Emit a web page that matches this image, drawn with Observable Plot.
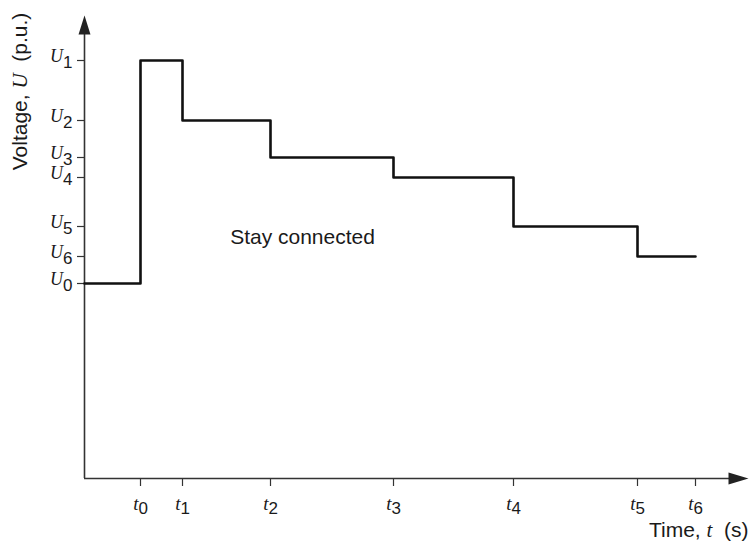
<!DOCTYPE html>
<html>
<head>
<meta charset="utf-8">
<script src="https://cdn.jsdelivr.net/npm/d3@7"></script>
<script src="https://cdn.jsdelivr.net/npm/@observablehq/plot@0.6"></script>
<style>
  html, body { margin: 0; padding: 0; background: #fff; }
</style>
</head>
<body>
<div id="chart"></div>
<script>
// ---- data ----
const tLabels = ["*t*_0", "*t*_1", "*t*_2", "*t*_3", "*t*_4", "*t*_5", "*t*_6"];
const tValues = [56, 98, 186, 309, 429, 553, 611];
const uLabels = ["*U*_0", "*U*_1", "*U*_2", "*U*_3", "*U*_4", "*U*_5", "*U*_6"];
const uValues = [195, 418, 358, 321, 301, 252, 222];
const xMax = 664;
const yMax = 463;
const yTitle = "Voltage, *U*  (p.u.)";
const xTitle = "Time, *t*  (s)";
const note = "Stay connected";
const noteAt = {t: 218, u: 241};

// step profile: starts at U0 at t=0, then U1..U6 from t0..t5, held to t6
const profile = [{t: 0, u: uValues[0]}];
for (let i = 0; i < 6; i++) profile.push({t: tValues[i], u: uValues[i + 1]});
profile.push({t: tValues[6], u: uValues[6]});

const tLab = new Map(tValues.map((v, i) => [v, tLabels[i]]));
const uLab = new Map(uValues.map((v, i) => [v, uLabels[i]]));

const arrowUp = {draw(ctx) { ctx.moveTo(0, 0); ctx.lineTo(6, 19); ctx.lineTo(-6, 19); ctx.closePath(); }};
const arrowRight = {draw(ctx) { ctx.moveTo(0, 0); ctx.lineTo(-20, -6); ctx.lineTo(-20, 6); ctx.closePath(); }};

const SANS = "'Liberation Sans', Arial, Helvetica, sans-serif";
const SERIF = "'Liberation Serif', 'Times New Roman', serif";
const ink = "#1a1a1a";

const chart = Plot.plot({
  width: 753,
  height: 556,
  marginLeft: 84,
  marginRight: 5,
  marginTop: 15,
  marginBottom: 78,
  style: {fontFamily: SANS, fontSize: "16px", color: ink, background: "#fff"},
  x: {domain: [0, xMax]},
  y: {domain: [0, yMax]},
  marks: [
    Plot.ruleY([0], {x1: 0, x2: xMax - 12, stroke: "#333", strokeWidth: 1.6}),
    Plot.ruleX([0], {y1: 0, y2: yMax - 12, stroke: "#333", strokeWidth: 1.6}),
    Plot.dot([0], {x: 0, y: yMax, symbol: arrowUp, fill: "#222", stroke: null}),
    Plot.dot([0], {x: xMax, y: 0, symbol: arrowRight, fill: "#222", stroke: null}),
    Plot.axisY(uValues, {tickSize: 7, tickPadding: 5, fontSize: 16, stroke: "#333", strokeWidth: 1.2, tickFormat: d => uLab.get(d), label: null}),
    Plot.axisX(tValues, {tickSize: 8, tickPadding: 12, fontSize: 16, stroke: "#333", strokeWidth: 1.2, tickFormat: d => tLab.get(d), label: null}),
    Plot.line(profile, {x: "t", y: "u", curve: "step-after", stroke: "#111", strokeWidth: 2.6}),
    Plot.text([note], {x: noteAt.t, y: noteAt.u, text: d => d, fontSize: 21, fill: ink}),
    Plot.text([yTitle], {frameAnchor: "top-left", lineAnchor: "middle", dx: -64, dy: 76, rotate: -90, text: d => d, fontSize: 21, fill: ink, textAnchor: "middle"}),
    Plot.text([xTitle], {frameAnchor: "bottom-right", lineAnchor: "middle", dx: 0, dy: 52, text: d => d, fontSize: 21, fill: ink, textAnchor: "end"})
  ]
});

document.getElementById("chart").appendChild(chart);

// rich text: *x* -> italic serif, _d -> subscript
function rich(el, opts) {
  const s = el.textContent;
  if (s.indexOf("*") < 0) return;
  const parts = s.split("*");
  el.textContent = "";
  const sel = d3.select(el);
  let first = true;
  parts.forEach((seg, i) => {
    if (!seg) return;
    let ts;
    if (i % 2 === 1) {
      ts = sel.append("tspan").attr("font-family", SERIF).attr("font-style", "italic")
        .attr("font-size", opts.serifSize).text(seg);
    } else if (seg.startsWith("_")) {
      ts = sel.append("tspan").attr("font-size", opts.subSize).attr("dy", opts.subDy).text(seg.slice(1));
    } else {
      ts = sel.append("tspan").text(seg);
    }
    if (first && opts.baseDy) ts.attr("dy", opts.baseDy);
    first = false;
  });
}
const svg = d3.select(chart);
svg.selectAll('g[aria-label="y-axis tick label"] text').each(function() {
  rich(this, {serifSize: 18, subSize: 17, subDy: 6, baseDy: -4});
});
svg.selectAll('g[aria-label="x-axis tick label"] text').each(function() {
  rich(this, {serifSize: 19, subSize: 17, subDy: 4.5, baseDy: 0});
});
svg.selectAll('g[aria-label="text"] text').each(function() {
  rich(this, {serifSize: 21, subSize: 21, subDy: 0, baseDy: 0});
});
</script>
</body>
</html>
